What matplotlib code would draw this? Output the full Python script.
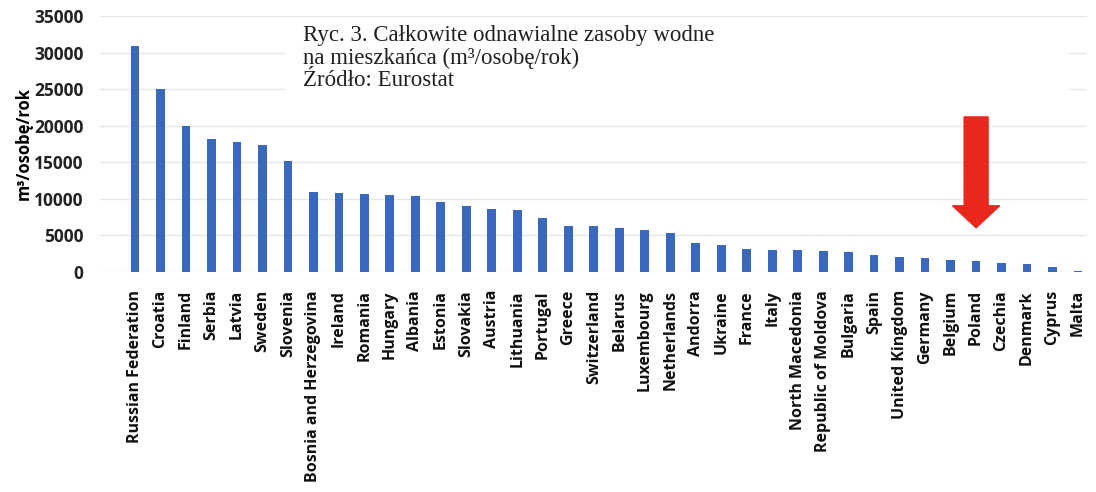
import matplotlib
matplotlib.use("Agg")
import matplotlib.pyplot as plt
from matplotlib.patches import Rectangle, FancyArrow

countries = [
    "Russian Federation", "Croatia", "Finland", "Serbia", "Latvia", "Sweden",
    "Slovenia", "Bosnia and Herzegovina", "Ireland", "Romania", "Hungary",
    "Albania", "Estonia", "Slovakia", "Austria", "Lithuania", "Portugal",
    "Greece", "Switzerland", "Belarus", "Luxembourg", "Netherlands", "Andorra",
    "Ukraine", "France", "Italy", "North Macedonia", "Republic of Moldova",
    "Bulgaria", "Spain", "United Kingdom", "Germany", "Belgium", "Poland",
    "Czechia", "Denmark", "Cyprus", "Malta",
]
values = [
    30900, 25000, 19900, 18200, 17800, 17400,
    15200, 11000, 10800, 10700, 10500,
    10400, 9600, 9050, 8650, 8500, 7400,
    6350, 6250, 6000, 5750, 5300, 3950,
    3750, 3150, 2950, 2950, 2900,
    2800, 2350, 2100, 1850, 1650, 1550,
    1200, 1050, 650, 120,
]
yticks = [0, 5000, 10000, 15000, 20000, 25000, 30000, 35000]
highlight = "Poland"

W, H = 1096, 492
fig = plt.figure(figsize=(W / 100, H / 100), dpi=100)
ax = fig.add_axes([100 / W, 1 - 272 / H, 987 / W, 256 / H])

x = list(range(len(countries)))
ax.bar(x, values, width=0.34, color="#3a68bd", zorder=3)

ax.set_ylim(0, 35000)
ax.set_xlim(-1.37, len(countries) - 1 + 0.35)
ax.set_yticks(yticks)
ax.set_yticklabels([str(v) for v in yticks], fontsize=12.5, fontweight="bold",
                   family="Open Sans", color="#222222")
ax.set_xticks(x)
ax.set_xticklabels(countries, rotation=90, fontsize=11.5, fontweight="bold",
                   family="Open Sans", color="#111111")
ax.tick_params(axis="both", length=0)
ax.tick_params(axis="x", pad=13)
ax.tick_params(axis="y", pad=12)
for s in ax.spines.values():
    s.set_visible(False)
ax.grid(axis="y", color="#e6e6e6", linewidth=1, zorder=0)
ax.set_ylabel("m³/osobę/rok", fontsize=12, fontweight="bold",
              family="Open Sans", labelpad=1)

# red arrow pointing at Poland
pi = countries.index(highlight)
pv = values[pi]
tip = pv + 4500
top = 21200
arrow = FancyArrow(pi, top, 0, tip - top, width=0.94, head_width=1.85,
                   head_length=3000, length_includes_head=True,
                   color="#e8271d", zorder=5)
ax.add_patch(arrow)

# caption box
fig.patches.append(Rectangle((285 / W, 1 - 107 / H), (1069 - 285) / W, 87 / H,
                             transform=fig.transFigure, facecolor="white",
                             edgecolor="none", zorder=10))
caption = ("Ryc. 3. Całkowite odnawialne zasoby wodne\n"
           "na mieszkańca (m³/osobę/rok)\n"
           "Źródło: Eurostat")
fig.text(303 / W, 1 - 25 / H, caption, family="Liberation Serif",
         fontsize=16.5, color="#231f20", va="top", ha="left",
         linespacing=1.1, zorder=11)

fig.savefig("out.png", dpi=100, facecolor="white")
